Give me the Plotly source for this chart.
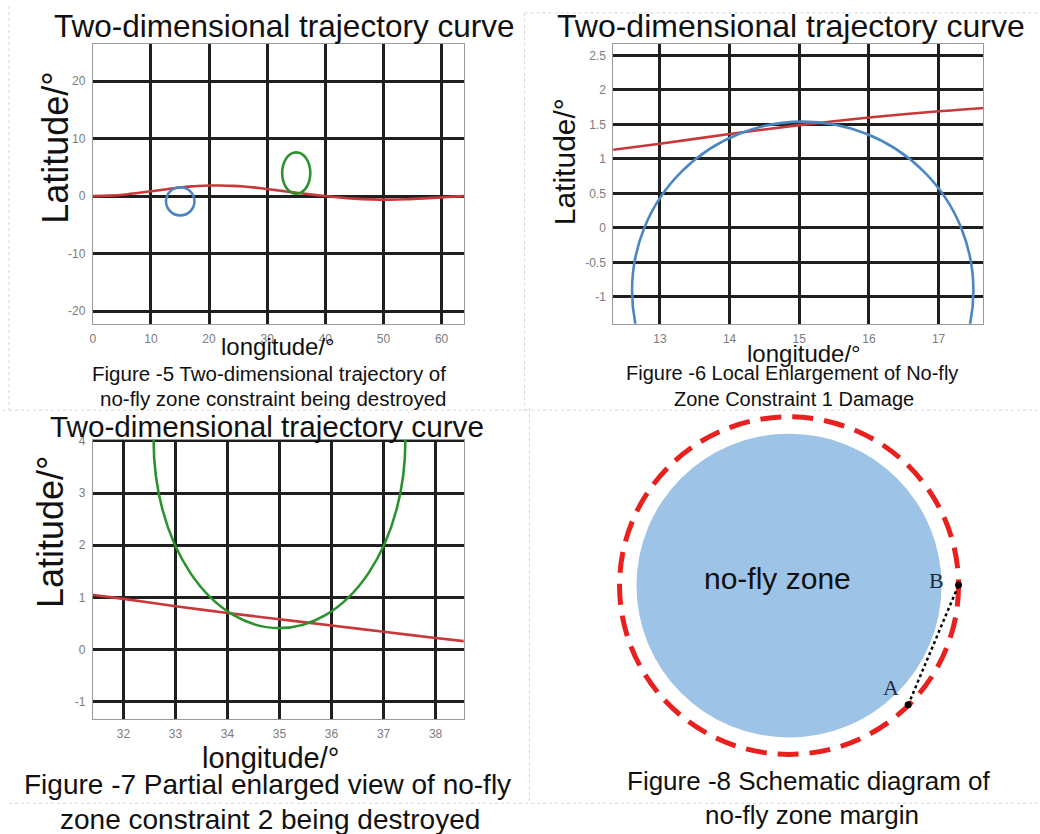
import plotly.graph_objects as go

W, H = 1040, 834
FONT = "Liberation Sans, Arial, Helvetica, sans-serif"
SERIF = "Liberation Serif, Times New Roman, serif"

# ---------------- data ----------------
traj_lon = [0, 3, 6, 9, 10, 11, 12, 13, 14, 15, 16, 17, 18, 20, 22, 24, 26, 28, 30, 31,
            32, 33, 34, 35, 36, 37, 38, 39, 40, 42, 45, 48, 51, 54, 57, 60, 62, 64]
traj_lat = [0.0, 0.08, 0.33, 0.70, 0.83, 0.96, 1.09, 1.22, 1.36, 1.49, 1.60, 1.69, 1.76, 1.84,
            1.84, 1.78, 1.66, 1.47, 1.24, 1.10, 0.97, 0.83, 0.70, 0.58, 0.46, 0.34, 0.22, 0.11,
            0.0, -0.20, -0.45, -0.58, -0.62, -0.55, -0.40, -0.22, -0.10, 0.0]

zone1_center = [15.05, -0.91]   # no-fly zone 1 (lon, lat)
zone1_radius = [2.45, 2.45]
zone2_center = [35.0, 4.01]     # no-fly zone 2 (lon, lat)
zone2_radius = [2.42, 3.60]

p1_xticks = [0, 10, 20, 30, 40, 50, 60]
p1_yticks = [-20, -10, 0, 10, 20]
p1_yticklabels = ["-20", "-10", "0", "10", "20"]
p2_xticks = [13, 14, 15, 16, 17]
p2_yticks = [-1, -0.5, 0, 0.5, 1, 1.5, 2, 2.5]
p2_yticklabels = ["-1", "-0.5", "0", "0.5", "1", "1.5", "2", "2.5"]
p3_xticks = [32, 33, 34, 35, 36, 37, 38]
p3_yticks = [-1, 0, 1, 2, 3, 4]
p3_yticklabels = ["-1", "0", "1", "2", "3", "4"]

# schematic (figure 8), arbitrary units
schem_zone_r = 153
schem_margin_r = 170
schem_pt_labels = ["A", "B"]
schem_pt_x = [119.5, 170.0]
schem_pt_y = [-120.0, 0.5]

# ---------------- helpers ----------------
def px(x):
    return x / W

def py(y):
    return 1 - y / H

RED = "#c8373a"
BLUE = "#4a87c2"
GREEN = "#2b922e"

def axis(domain, rng, tickvals, ticktext=None, anchor=None):
    d = dict(domain=domain, range=rng, tickvals=tickvals, showgrid=True,
             gridcolor="#1f1f1f", gridwidth=3, zeroline=False, showline=True,
             linecolor="#9a9a9a", linewidth=1, mirror=True, ticks="",
             tickfont=dict(size=12, color="#7c7c7c", family=FONT), anchor=anchor,
             fixedrange=True, ticklabelstandoff=4)
    if ticktext is not None:
        d["ticktext"] = ticktext
    return d

fig = go.Figure()

for xa, ya in [("x", "y"), ("x2", "y2"), ("x3", "y3")]:
    fig.add_trace(go.Scatter(x=traj_lon, y=traj_lat, mode="lines", xaxis=xa, yaxis=ya,
                             line=dict(color=RED, width=2.6, shape="spline", smoothing=0.8),
                             hoverinfo="skip", showlegend=False))

fig.add_trace(go.Scatter(x=schem_pt_x, y=schem_pt_y, mode="lines+markers", xaxis="x4", yaxis="y4",
                         line=dict(color="black", width=2.5, dash="dot"),
                         marker=dict(size=7, color="black"), hoverinfo="skip", showlegend=False))

dom_x_left = [px(90), px(462)]
dom_x_right = [px(612), px(983)]
dom_y_top = [py(320), py(38)]
dom_y_bot = [py(718), py(437)]

fig.update_layout(
    width=W, height=H, margin=dict(l=0, r=0, t=0, b=0),
    paper_bgcolor="white", plot_bgcolor="white", showlegend=False,
    font=dict(family=FONT, color="#111"),
    xaxis=axis(dom_x_left, [0, 63.8], p1_xticks, anchor="y"),
    yaxis=axis(dom_y_top, [-22.2, 26.5], p1_yticks, p1_yticklabels, anchor="x"),
    xaxis2=axis(dom_x_right, [12.33, 17.64], p2_xticks, anchor="y2"),
    yaxis2=axis(dom_y_top, [-1.39, 2.67], p2_yticks, p2_yticklabels, anchor="x2"),
    xaxis3=axis(dom_x_left, [31.41, 38.54], p3_xticks, anchor="y3"),
    yaxis3=axis(dom_y_bot, [-1.33, 4.02], p3_yticks, p3_yticklabels, anchor="x3"),
    xaxis4=dict(domain=[0.5, 1.0], range=[520 - 788.3, 1040 - 788.3], visible=False,
                anchor="y4", fixedrange=True),
    yaxis4=dict(domain=[0, py(405)], range=[583.8 - 834, 583.8 - 405], visible=False,
                anchor="x4", fixedrange=True),
)

shapes = []
for xr, yr in [("x", "y"), ("x2", "y2")]:
    shapes.append(dict(type="circle", xref=xr, yref=yr, layer="above",
                       x0=zone1_center[0] - zone1_radius[0], x1=zone1_center[0] + zone1_radius[0],
                       y0=zone1_center[1] - zone1_radius[1], y1=zone1_center[1] + zone1_radius[1],
                       line=dict(color=BLUE, width=2.6)))
for xr, yr in [("x", "y"), ("x3", "y3")]:
    shapes.append(dict(type="circle", xref=xr, yref=yr, layer="above",
                       x0=zone2_center[0] - zone2_radius[0], x1=zone2_center[0] + zone2_radius[0],
                       y0=zone2_center[1] - zone2_radius[1], y1=zone2_center[1] + zone2_radius[1],
                       line=dict(color=GREEN, width=2.6)))

# schematic circles
shapes.append(dict(type="circle", xref="x4", yref="y4", layer="below",
                   x0=-schem_zone_r, x1=schem_zone_r, y0=-schem_zone_r, y1=schem_zone_r,
                   fillcolor="#9dc3e6", line=dict(width=0)))
shapes.append(dict(type="circle", xref="x4", yref="y4", layer="below",
                   x0=-schem_margin_r, x1=schem_margin_r, y0=-schem_margin_r, y1=schem_margin_r,
                   line=dict(color="#e8201e", width=5, dash="21px,11px")))

# faint panel separators
sep = dict(color="#d6d6d6", width=1, dash="dot")
for (x0, y0, x1, y1) in [(6, 0, 6, 408), (523, 7, 523, 408), (523, 7, 1040, 7),
                         (0, 407, 1040, 407), (528, 405, 528, 803), (6, 803, 1040, 803)]:
    shapes.append(dict(type="line", xref="paper", yref="paper",
                       x0=px(x0), x1=px(x1), y0=py(y0), y1=py(y1), line=sep))

fig.update_layout(shapes=shapes)

ann = []
def text(t, x, y, size, angle=0, family=FONT, color="#111"):
    ann.append(dict(text=t, x=px(x), y=py(y), xref="paper", yref="paper", showarrow=False,
                    xanchor="center", yanchor="middle", textangle=angle,
                    font=dict(size=size, family=family, color=color)))

# titles
text("Two-dimensional trajectory curve", 282, 20, 31.5)
text("Two-dimensional trajectory curve", 790, 20, 32)
text("Two-dimensional trajectory curve", 265, 424, 29.7)
# axis titles
text("Latitude/°", 53, 142, 36, -90)
text("Latitude/°", 563, 157, 30, -90)
text("Latitude/°", 47, 529, 36, -90)
text("longitude/°", 276, 343, 24)
text("longitude/°", 803, 350, 24)
text("longitude/°", 268, 757, 29)
# captions
text("Figure -5 Two-dimensional trajectory of", 267, 370, 20.5)
text("no-fly zone constraint being destroyed", 271, 395, 20.5)
text("Figure -6 Local Enlargement of No-fly", 791, 370, 20)
text("Zone Constraint 1 Damage", 793, 396, 20)
text("Figure -7 Partial enlarged view of no-fly", 265, 784, 28)
text("zone constraint 2 being destroyed", 268, 819, 28)
text("Figure -8 Schematic diagram of", 808, 781, 26)
text("no-fly zone margin", 811, 815, 26)

# schematic labels
ann.append(dict(text="no-fly zone", x=-11.6, y=7, xref="x4", yref="y4", showarrow=False,
                font=dict(size=30, family=FONT, color="#111")))
ann.append(dict(text=schem_pt_labels[1], x=147.7, y=4.8, xref="x4", yref="y4", showarrow=False,
                font=dict(size=22, family=SERIF, color="#1f2a40")))
ann.append(dict(text=schem_pt_labels[0], x=102.4, y=-102.2, xref="x4", yref="y4", showarrow=False,
                font=dict(size=22, family=SERIF, color="#1f2a40")))

fig.update_layout(annotations=ann)

post = ("document.body.style.margin='0px';document.body.style.padding='0px';"
        "document.documentElement.style.overflow='hidden';"
        "var g=document.getElementById('{plot_id}');g.style.position='absolute';"
        "g.style.left='0px';g.style.top='0px';")
fig.write_html("out.html", post_script=post, config={"displayModeBar": False})
